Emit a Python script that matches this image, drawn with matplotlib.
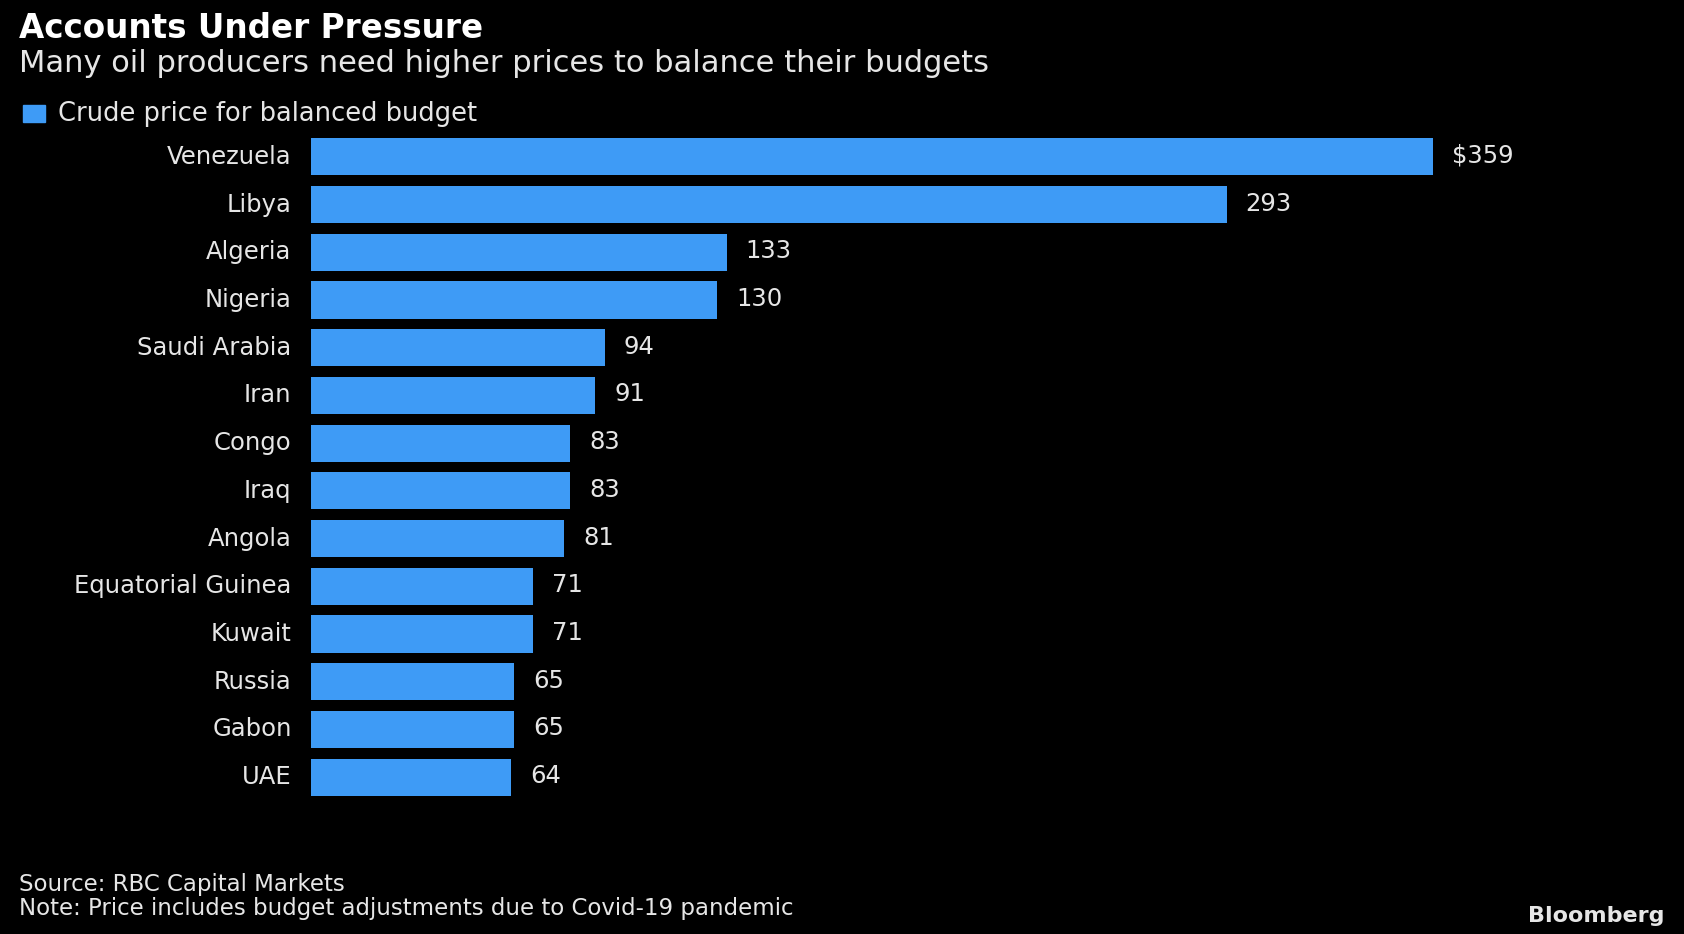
# Bloomberg-style bar chart: crude price needed to balance budgets

import matplotlib
matplotlib.use('Agg')
import matplotlib.pyplot as plt

countries = ['Venezuela', 'Libya', 'Algeria', 'Nigeria', 'Saudi Arabia', 'Iran', 'Congo',
             'Iraq', 'Angola', 'Equatorial Guinea', 'Kuwait', 'Russia', 'Gabon', 'UAE']
prices = [359, 293, 133, 130, 94, 91, 83, 83, 81, 71, 71, 65, 65, 64]
value_labels = ['$359', '293', '133', '130', '94', '91', '83', '83', '81', '71', '71', '65', '65', '64']

title = 'Accounts Under Pressure'
subtitle = 'Many oil producers need higher prices to balance their budgets'
legend_label = 'Crude price for balanced budget'
source = 'Source: RBC Capital Markets'
note = 'Note: Price includes budget adjustments due to Covid-19 pandemic'

bar_color = '#3E9BF6'
text_color = '#E6E6E6'
W, H = 1684, 934

plt.rcParams['font.family'] = ['DejaVu Sans']

fig = plt.figure(figsize=(W / 100, H / 100), dpi=100, facecolor='black')

# axes placed in pixel coordinates: bars from x=311 to x=1433 (value 359)
left, right = 311, 1433
top, bottom = 133, 801
ax = fig.add_axes([left / W, 1 - bottom / H, (right - left) / W, (bottom - top) / H])
ax.set_facecolor('black')

ypos = range(len(countries))
ax.barh(ypos, prices, height=0.78, color=bar_color)
ax.set_xlim(0, max(prices))
ax.set_ylim(len(countries) - 0.5, -0.5)

for y, v, lab in zip(ypos, prices, value_labels):
    ax.annotate(lab, (v, y), xytext=(19, 1), textcoords='offset pixels',
                ha='left', va='center', color=text_color, fontsize=17.5, clip_on=False)

ax.set_yticks(list(ypos))
ax.set_yticklabels(countries, color=text_color, fontsize=17.5, va='center')
ax.tick_params(axis='y', length=0, pad=14)
ax.set_xticks([])
for s in ax.spines.values():
    s.set_visible(False)

# header text
fig.text(19 / W, 1 - 29 / H, title, color='white', fontsize=23.5, fontweight='bold',
         va='center', ha='left')
fig.text(19 / W, 1 - 64 / H, subtitle, color=text_color, fontsize=22,
         va='center', ha='left')

# legend swatch + label
fig.patches.append(plt.Rectangle((23 / W, 1 - 122 / H), 22 / W, 17 / H,
                                 transform=fig.transFigure, color=bar_color))
fig.text(58 / W, 1 - 114 / H, legend_label, color=text_color, fontsize=18.5,
         va='center', ha='left')

# footer
fig.text(19 / W, 1 - 884 / H, source, color=text_color, fontsize=16.5, va='center', ha='left')
fig.text(19 / W, 1 - 908 / H, note, color=text_color, fontsize=16.5, va='center', ha='left')
fig.text(1665 / W, 1 - 916 / H, 'Bloomberg', color=text_color, fontsize=16,
         fontweight='bold', va='center', ha='right')

fig.savefig('out.png', dpi=100, facecolor='black')
